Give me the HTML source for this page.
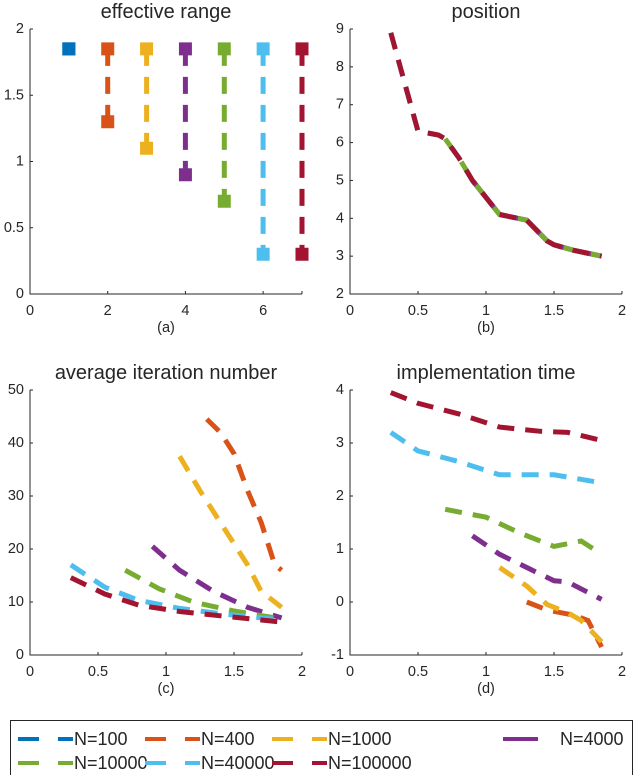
<!DOCTYPE html>
<html><head><meta charset="utf-8"><style>
body{margin:0;background:#fff;width:640px;height:775px;overflow:hidden}
svg{display:block;font-family:"Liberation Sans",sans-serif}
</style></head><body>
<svg id="fig" width="640" height="775"></svg>
<script>
const colors=['#0072BD','#D95319','#EDB120','#7E2F8E','#77AC30','#4DBEEE','#A2142F'];
const seriesNames=['N=100','N=400','N=1000','N=4000','N=10000','N=40000','N=100000'];
const rangeMin=[1.85,1.3,1.1,0.9,0.7,0.3,0.3];
const rangeMax=[1.85,1.85,1.85,1.85,1.85,1.85,1.85];
const posX=[0.3,0.4,0.5,0.65,0.7,0.8,0.9,1.1,1.3,1.45,1.5,1.65,1.85];
const posY=[8.9,7.6,6.3,6.2,6.1,5.6,5.0,4.1,3.95,3.4,3.3,3.15,3.0];
const iterX=[[1.85],[1.3,1.4,1.5,1.6,1.7,1.8,1.85],[1.1,1.25,1.4,1.6,1.7,1.85],[0.9,1.1,1.35,1.6,1.85],[0.7,0.95,1.2,1.5,1.85],[0.3,0.55,0.8,1.1,1.4,1.85],[0.3,0.55,0.8,1.1,1.4,1.85]];
const iterY=[[6],[44.5,42,38,31,25,17,16],[37.5,31,25,17,12,9],[20.5,16,12,9,7],[16,12.5,10,8.3,6.8],[17,12.8,10.3,8.8,7.8,6.6],[14.6,11.5,9.4,8.2,7.4,6.2]];
const timeX=[[1.85],[1.3,1.45,1.65,1.75,1.85],[1.1,1.3,1.45,1.6,1.7,1.85],[0.9,1.1,1.3,1.5,1.6,1.85],[0.7,1.0,1.25,1.5,1.7,1.85],[0.3,0.5,0.8,1.1,1.35,1.5,1.85],[0.3,0.5,0.8,1.1,1.4,1.6,1.85]];
const timeY=[[-0.9],[0.0,-0.15,-0.25,-0.35,-0.85],[0.65,0.3,-0.05,-0.2,-0.35,-0.75],[1.25,0.9,0.65,0.4,0.38,0.05],[1.75,1.6,1.3,1.05,1.15,0.9],[3.2,2.85,2.65,2.4,2.4,2.4,2.25],[3.95,3.75,3.55,3.3,3.22,3.2,3.05]];
const ticksA_x=[0,2,4,6],ticksA_y=[0,0.5,1,1.5,2];
const ticksX=[0,0.5,1,1.5,2];
const ticksB_y=[2,3,4,5,6,7,8,9];
const ticksC_y=[0,10,20,30,40,50];
const ticksD_y=[-1,0,1,2,3,4];

const NS='http://www.w3.org/2000/svg';
const svg=document.getElementById('fig');
function el(tag,attrs,parent){const e=document.createElementNS(NS,tag);for(const k in attrs)e.setAttribute(k,attrs[k]);(parent||svg).appendChild(e);return e;}
function txt(s,x,y,size,anchor,parent,name){const t=el('text',{x:x,y:y,'font-size':size,'text-anchor':anchor||'middle',fill:'#262626','dominant-baseline':'central'},parent);t.textContent=s;

return t;}
function axes(name,x0,x1,y0,y1,xmin,xmax,ymin,ymax,xt,yt,title,label){
  const g=el('g',{});
  
  
  const sx=v=>x0+(v-xmin)/(xmax-xmin)*(x1-x0);
  const sy=v=>y0-(v-ymin)/(ymax-ymin)*(y0-y1);
  el('path',{d:`M${x0},${y1}V${y0}H${x1}`,stroke:'#262626','stroke-width':1,fill:'none'},g);
  xt.forEach(v=>{el('line',{x1:sx(v),x2:sx(v),y1:y0,y2:y0-3,stroke:'#262626'},g);txt(String(v),sx(v),y0+17,14.5,'middle',g,'x-tick-label');});
  el('line',{x1:x1,x2:x1,y1:y0,y2:y0-3,stroke:'#262626'},g);
  yt.forEach(v=>{el('line',{x1:x0,x2:x0+3,y1:sy(v),y2:sy(v),stroke:'#262626'},g);txt(String(v),x0-6,sy(v),14.5,'end',g,'y-tick-label');});
  txt(title,(x0+x1)/2,y1-17,20,'middle',g,'chart-title');
  txt(label,(x0+x1)/2,y0+34,14.5,'middle',g,'subplot-label');
  return {g,sx,sy};
}
function line(ax,xs,ys,c,name){
  const d=xs.map((x,i)=>(i?'L':'M')+ax.sx(x).toFixed(1)+','+ax.sy(ys[i]).toFixed(1)).join('');
  const p=el('path',{d:d,stroke:c,'stroke-width':5,fill:'none','stroke-dasharray':'17,11','stroke-linecap':'butt'},ax.g);
  
  
}
// (a)
const A=axes('effective-range-chart',30,302,294,29,0,7,0,2,ticksA_x,ticksA_y,'effective range','(a)');
for(let i=0;i<7;i++){
  const x=i+1;
  line(A,[x,x],[rangeMax[i],rangeMin[i]],colors[i],'range-line-'+seriesNames[i]);
  [rangeMax[i],rangeMin[i]].forEach(v=>{
    const r=el('rect',{x:A.sx(x)-6.5,y:A.sy(v)-6.5,width:13,height:13,fill:colors[i]},A.g);
    
    
  });
}
// (b)
const B=axes('position-chart',350,622,294,29,0,2,2,9,ticksX,ticksB_y,'position','(b)');
for(let i=0;i<7;i++){
  const xs=[],ys=[];posX.forEach((x,j)=>{if(x>=rangeMin[i]-1e-9){xs.push(x);ys.push(posY[j]);}});
  if(xs.length>1)line(B,xs,ys,colors[i],'position-line-'+seriesNames[i]);
}
// (c)
const C=axes('iteration-chart',30,302,655,390,0,2,0,50,ticksX,ticksC_y,'average iteration number','(c)');
for(let i=0;i<7;i++)if(iterX[i].length>1)line(C,iterX[i],iterY[i],colors[i],'iteration-line-'+seriesNames[i]);
// (d)
const D=axes('time-chart',350,622,655,390,0,2,-1,4,ticksX,ticksD_y,'implementation time','(d)');
for(let i=0;i<7;i++)if(timeX[i].length>1)line(D,timeX[i],timeY[i],colors[i],'time-line-'+seriesNames[i]);
// legend
const L=el('g',{});


el('rect',{x:10.5,y:720.5,width:622,height:60,fill:'#fff',stroke:'#262626','stroke-width':1},L);
const colX=[16,143,270,405];
for(let i=0;i<7;i++){
  const cx=colX[i%4],cy=i<4?739:763;
  const g=el('g',{},L);
  
  
  if(i===3){el('line',{x1:cx+98,x2:cx+133,y1:cy,y2:cy,stroke:colors[i],'stroke-width':4},g);txt(seriesNames[i],cx+155,cy,18,'start',g,'legend-label');}
  else{
    el('line',{x1:cx+2,x2:cx+23,y1:cy,y2:cy,stroke:colors[i],'stroke-width':4},g);
    el('line',{x1:cx+42,x2:cx+57,y1:cy,y2:cy,stroke:colors[i],'stroke-width':4},g);
    txt(seriesNames[i],cx+58,cy,18,'start',g,'legend-label');
  }
}
</script>
</body></html>
